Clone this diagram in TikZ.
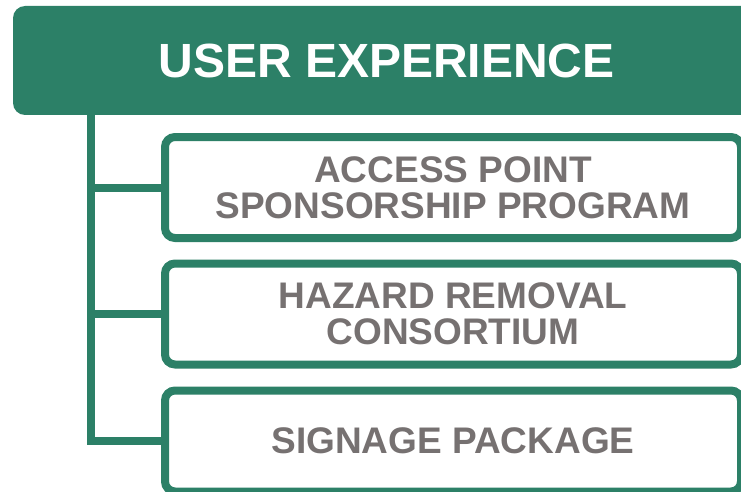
\documentclass[tikz,border=0pt]{standalone}
\usepackage{fontspec}
\setmainfont{Liberation Sans}
\usepackage{xcolor}
\usepackage{tikz}
\definecolor{UXgreen}{HTML}{2C8067}
\definecolor{UXgray}{HTML}{767171}

\tikzset{
  headbox/.style={fill=UXgreen, rounded corners=12pt, minimum width=747pt, minimum height=109pt, text=white, font=\fontsize{48}{48}\selectfont\bfseries, inner sep=0pt},
  itembox/.style={draw=UXgreen, line width=8pt, fill=white, rounded corners=10pt, minimum width=576pt, minimum height=101pt, align=center, text=UXgray, font=\fontsize{37}{36}\selectfont\bfseries, inner sep=0pt},
  branch/.style={draw=UXgreen, line width=8pt}
}

\begin{document}
\begin{tikzpicture}[x=1pt, y=-1pt]%
\useasboundingbox (0,0) rectangle (741,492);%
\node[headbox] (head) at (386.5, 60.5) {USER EXPERIENCE};%
\coordinate (trunk) at (91, 115);%
\node[itembox] (sponsor) at (453, 187.5) {ACCESS POINT\\SPONSORSHIP PROGRAM};%
\node[itembox] (hazard) at (453, 314) {HAZARD REMOVAL\\CONSORTIUM};%
\node[itembox] (signage) at (453, 441) {SIGNAGE PACKAGE};%
\draw[branch] (trunk) |- (signage.west);%
\draw[branch] (trunk |- sponsor.west) -- (sponsor.west);%
\draw[branch] (trunk |- hazard.west) -- (hazard.west);%
\end{tikzpicture}
\end{document}
